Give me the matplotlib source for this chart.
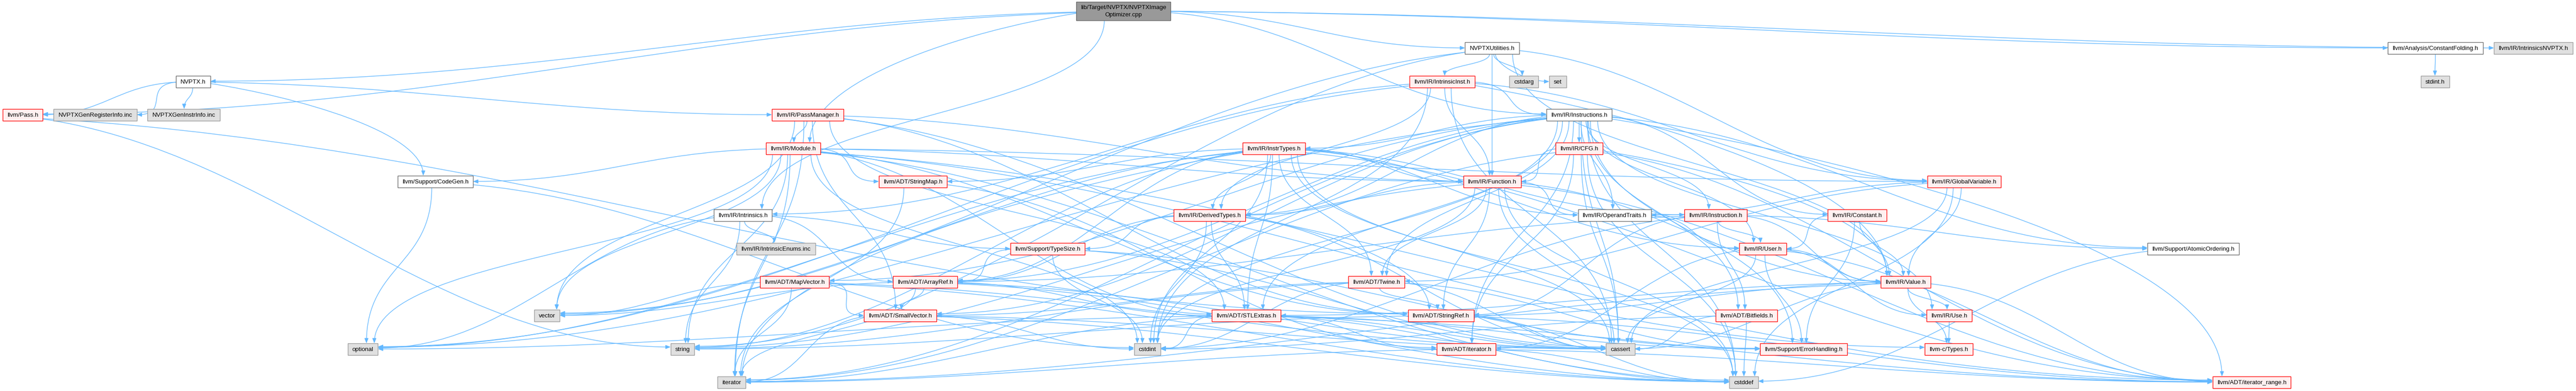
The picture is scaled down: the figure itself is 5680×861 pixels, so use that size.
import numpy as np
import matplotlib
matplotlib.use("Agg")
from matplotlib import pyplot as plt
from matplotlib.patches import Rectangle, FancyArrowPatch
from matplotlib.path import Path

plt.rcParams['font.family'] = ['Liberation Sans', 'DejaVu Sans']

# ---- graph data -------------------------------------------------------
node_ids = ['root', 'nvptx', 'util', 'cfold', 'insnvptx', 'pass', 'genreg', 'geninstr',
            'passmgr', 'iinst', 'cstdarg', 'set', 'stdint', 'instrs', 'module', 'instrtypes',
            'cfg', 'codegen', 'strmap', 'func', 'gvar', 'intr', 'dtypes', 'optraits', 'instr',
            'const', 'ienums', 'tsize', 'user', 'atomic', 'mapvec', 'arrayref', 'twine', 'value',
            'vector', 'smallvec', 'stlextras', 'strref', 'bitfields', 'use', 'optional', 'string',
            'cstdint', 'iterh', 'cassert', 'errh', 'ctypes', 'iterator', 'cstddef', 'irange']

node_labels = ['lib/Target/NVPTX/NVPTXImage\nOptimizer.cpp', 'NVPTX.h', 'NVPTXUtilities.h',
               'llvm/Analysis/ConstantFolding.h', 'llvm/IR/IntrinsicsNVPTX.h', 'llvm/Pass.h',
               'NVPTXGenRegisterInfo.inc', 'NVPTXGenInstrInfo.inc', 'llvm/IR/PassManager.h',
               'llvm/IR/IntrinsicInst.h', 'cstdarg', 'set', 'stdint.h', 'llvm/IR/Instructions.h',
               'llvm/IR/Module.h', 'llvm/IR/InstrTypes.h', 'llvm/IR/CFG.h', 'llvm/Support/CodeGen.h',
               'llvm/ADT/StringMap.h', 'llvm/IR/Function.h', 'llvm/IR/GlobalVariable.h',
               'llvm/IR/Intrinsics.h', 'llvm/IR/DerivedTypes.h', 'llvm/IR/OperandTraits.h',
               'llvm/IR/Instruction.h', 'llvm/IR/Constant.h', 'llvm/IR/IntrinsicEnums.inc',
               'llvm/Support/TypeSize.h', 'llvm/IR/User.h', 'llvm/Support/AtomicOrdering.h',
               'llvm/ADT/MapVector.h', 'llvm/ADT/ArrayRef.h', 'llvm/ADT/Twine.h', 'llvm/IR/Value.h',
               'vector', 'llvm/ADT/SmallVector.h', 'llvm/ADT/STLExtras.h', 'llvm/ADT/StringRef.h',
               'llvm/ADT/Bitfields.h', 'llvm/IR/Use.h', 'optional', 'string', 'cstdint',
               'llvm/ADT/iterator.h', 'cassert', 'llvm/Support/ErrorHandling.h', 'llvm-c/Types.h',
               'iterator', 'cstddef', 'llvm/ADT/iterator_range.h']

# root / doc (white) / trunc (red border) / sys (grey)
node_kinds = ['root', 'doc', 'doc', 'doc', 'sys', 'trunc', 'sys', 'sys',
              'trunc', 'trunc', 'sys', 'sys', 'sys', 'doc', 'trunc', 'trunc',
              'trunc', 'doc', 'trunc', 'trunc', 'trunc', 'doc', 'trunc', 'doc', 'trunc',
              'trunc', 'sys', 'trunc', 'trunc', 'doc', 'trunc', 'trunc', 'trunc', 'trunc',
              'sys', 'trunc', 'trunc', 'trunc', 'trunc', 'trunc', 'sys', 'sys',
              'sys', 'trunc', 'sys', 'trunc', 'trunc', 'sys', 'sys', 'trunc']

includes = {
    'root': ['nvptx', 'util', 'cfold', 'insnvptx', 'instrs', 'intr', 'pass', 'module'],
    'nvptx': ['passmgr', 'pass', 'codegen', 'genreg', 'geninstr'],
    'util': ['iinst', 'func', 'gvar', 'cstdarg', 'set', 'string', 'vector', 'value'],
    'cfold': ['stdint'],
    'pass': ['strref', 'string'],
    'passmgr': ['stlextras', 'smallvec', 'strref', 'func', 'module', 'cassert', 'iterator', 'vector'],
    'iinst': ['dtypes', 'func', 'gvar', 'instrs', 'intr', 'value', 'cassert', 'cstdint', 'optional'],
    'instrs': ['arrayref', 'bitfields', 'mapvec', 'stlextras', 'smallvec', 'twine', 'iterh', 'irange',
               'cfg', 'const', 'dtypes', 'instrtypes', 'instr', 'optraits', 'use', 'user', 'atomic',
               'errh', 'cassert', 'cstddef', 'cstdint', 'iterator', 'optional'],
    'module': ['ctypes', 'stlextras', 'strmap', 'strref', 'irange', 'func', 'gvar', 'codegen',
               'cstddef', 'cstdint', 'iterator', 'optional', 'string', 'vector'],
    'instrtypes': ['arrayref', 'stlextras', 'strmap', 'twine', 'irange', 'dtypes', 'func', 'instr',
                   'optraits', 'user', 'cassert', 'cstddef', 'cstdint', 'iterator', 'optional',
                   'string', 'vector'],
    'cfg': ['iterh', 'irange', 'func', 'value', 'cassert', 'cstddef', 'iterator'],
    'codegen': ['cstdint', 'optional'],
    'strmap': ['iterh', 'iterator'],
    'func': ['strref', 'twine', 'irange', 'dtypes', 'optraits', 'value', 'cassert', 'cstddef',
             'cstdint', 'string'],
    'gvar': ['twine', 'optraits', 'value', 'cassert', 'cstddef'],
    'intr': ['ienums', 'arrayref', 'tsize', 'optional', 'string'],
    'dtypes': ['arrayref', 'stlextras', 'strref', 'tsize', 'cassert', 'cstdint'],
    'optraits': ['user'],
    'instr': ['arrayref', 'bitfields', 'strref', 'user', 'value', 'atomic', 'cstdint'],
    'const': ['user', 'value', 'errh'],
    'tsize': ['arrayref', 'errh', 'cassert', 'cstdint'],
    'user': ['iterh', 'irange', 'use', 'value', 'errh', 'cassert'],
    'atomic': ['cstddef'],
    'mapvec': ['smallvec', 'cassert', 'cstddef', 'iterator', 'vector'],
    'arrayref': ['smallvec', 'stlextras', 'cassert', 'cstddef', 'iterator', 'vector'],
    'twine': ['smallvec', 'strref', 'errh', 'cassert', 'cstdint', 'string'],
    'value': ['ctypes', 'stlextras', 'strref', 'irange', 'use', 'cassert', 'iterator'],
    'smallvec': ['cassert', 'cstddef', 'cstdint', 'iterator'],
    'stlextras': ['iterh', 'irange', 'errh', 'cassert', 'cstddef', 'cstdint', 'iterator', 'optional'],
    'strref': ['irange', 'cassert', 'cstddef', 'string'],
    'bitfields': ['cassert', 'cstdint', 'cstddef'],
    'use': ['ctypes'],
    'iterh': ['irange', 'cstddef', 'iterator'],
}

# ---- layout (box centres, pixels) ------------------------------------
layout = {
    'root': (2477, 25), 'nvptx': (426, 181), 'util': (3290, 107), 'cfold': (5370, 107),
    'insnvptx': (5586, 107), 'pass': (50, 254), 'genreg': (210, 254), 'geninstr': (405, 254),
    'passmgr': (1781, 254), 'iinst': (3180, 181), 'cstdarg': (3360, 181), 'set': (3435, 181),
    'stdint': (5369, 181), 'instrs': (3482, 254), 'module': (1749, 328), 'instrtypes': (2809, 328),
    'cfg': (3482, 328), 'codegen': (960, 401), 'strmap': (2013, 401), 'func': (3290, 401),
    'gvar': (4331, 401), 'intr': (1638, 475), 'dtypes': (2667, 475), 'optraits': (3560, 475),
    'instr': (3783, 475), 'const': (4095, 475), 'ienums': (1711, 549), 'tsize': (2310, 549),
    'user': (3887, 549), 'atomic': (4836, 549), 'mapvec': (1752, 622), 'arrayref': (2040, 622),
    'twine': (3035, 622), 'value': (4202, 622), 'vector': (1206, 696), 'smallvec': (1985, 696),
    'stlextras': (2748, 696), 'strref': (3177, 696), 'bitfields': (3851, 696), 'use': (4298, 696),
    'optional': (800, 770), 'string': (1505, 770), 'cstdint': (2530, 770), 'iterh': (3233, 770),
    'cassert': (3573, 770), 'errh': (3977, 770), 'ctypes': (4297, 770), 'iterator': (1613, 843),
    'cstddef': (3845, 843), 'irange': (4965, 843),
}

styles = {
    'root': dict(fc='#999999', ec='#666666'),
    'doc': dict(fc='white', ec='#666666'),
    'trunc': dict(fc='#FFF0F0', ec='red'),
    'sys': dict(fc='#E0E0E0', ec='#999999'),
}
EDGE = '#63B8FF'
W, H = 5680, 862

fig = plt.figure(figsize=(W / 100, H / 100), dpi=100)
ax = fig.add_axes([0, 0, 1, 1])
ax.set_xlim(0, W)
ax.set_ylim(H, 0)
ax.axis('off')
renderer = fig.canvas.get_renderer()

boxes = {}
for nid, lab, kind in zip(node_ids, node_labels, node_kinds):
    cx, cy = layout[nid]
    t = ax.text(cx, cy, lab, ha='center', va='center', fontsize=9.6,
                linespacing=1.45, zorder=5)
    bb = t.get_window_extent(renderer)
    w = bb.width + 20
    h = 41 if kind == 'root' else 26
    st = styles[kind]
    ax.add_patch(Rectangle((cx - w / 2, cy - h / 2), w, h, facecolor=st['fc'],
                           edgecolor=st['ec'], lw=1.0, zorder=4))
    boxes[nid] = (cx, cy, w, h)


def edge_path(src, dst):
    sx, sy, sw, sh = boxes[src]
    tx, ty, tw, th = boxes[dst]
    dx = tx - sx
    dy = (ty - th / 2) - (sy + sh / 2)
    sgn = 1 if dx >= 0 else -1
    # leave the source
    if abs(dx) > 2.2 * dy + sw / 2:
        p0 = (sx + sgn * sw / 2, sy + np.clip(dy * 0.02, 0, sh * 0.35))
        c1 = (p0[0] + sgn * abs(dx) * 0.35, p0[1] + dy * 0.15)
    else:
        p0 = (sx + np.clip(dx * 0.05, -0.38 * sw, 0.38 * sw), sy + sh / 2)
        c1 = (p0[0], p0[1] + dy * 0.5)
    # enter the target
    if abs(dx) > 2.6 * dy + tw / 2:
        p3 = (tx - sgn * tw / 2, ty + np.clip(-dy * 0.01, -th * 0.3, 0))
        c2 = (p3[0] - sgn * abs(dx) * 0.35, p3[1])
    else:
        p3 = (tx - np.clip(dx * 0.05, -0.38 * tw, 0.38 * tw), ty - th / 2)
        c2 = (p3[0], p3[1] - dy * 0.5)
    return Path([p0, c1, c2, p3], [Path.MOVETO, Path.CURVE4, Path.CURVE4, Path.CURVE4])


for src, targets in includes.items():
    for dst in targets:
        arr = FancyArrowPatch(path=edge_path(src, dst),
                              arrowstyle='-|>,head_length=6.5,head_width=2.6',
                              color=EDGE, lw=1.0, shrinkA=0, shrinkB=0, zorder=2)
        ax.add_patch(arr)

fig.savefig('out.png', dpi=100, facecolor='white')
